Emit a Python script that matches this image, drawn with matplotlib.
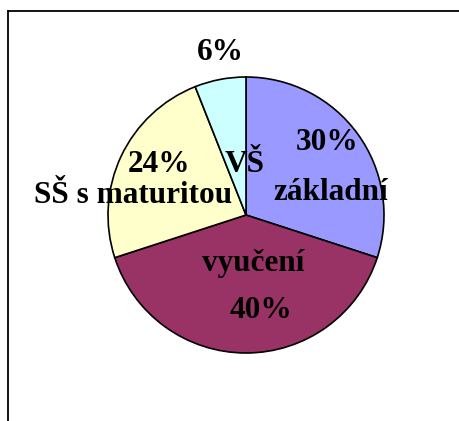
import matplotlib
matplotlib.use("Agg")
import matplotlib.pyplot as plt
from matplotlib.lines import Line2D

# data
categories = ["základní", "vyučení", "SŠ s maturitou", "VŠ"]
shares = [30, 40, 24, 6]
colors = ["#9999FF", "#993366", "#FFFFCC", "#CCFFFF"]

# label positions (pixel centres in the 460x421 image), name then percentage
name_px = [(331, 193), (253, 263), (133, 196), (245, 165)]
pct_px = [(327, 143), (261, 310), (159, 165), (220, 53)]

W, H = 460, 421
cx, cy, R = 246, 215, 138

fig = plt.figure(figsize=(W / 100, H / 100), dpi=100)
ax = fig.add_axes([0, 0, 1, 1])

ax.pie(shares, colors=colors, startangle=90, counterclock=False, radius=1,
       wedgeprops=dict(edgecolor="black", linewidth=1.2))

# pie resets the limits, so set them afterwards
ax.set_xlim(-cx / R, (W - cx) / R)
ax.set_ylim((cy - H) / R, cy / R)
ax.set_aspect("equal")
ax.axis("off")

def to_data(p):
    return (p[0] - cx) / R, (cy - p[1]) / R

font = dict(family="Liberation Serif", fontweight="bold", fontsize=22.5,
            ha="center", va="center", color="black")
for name, share, npos, ppos in zip(categories, shares, name_px, pct_px):
    x, y = to_data(npos)
    ax.text(x, y, name, **font)
    x, y = to_data(ppos)
    ax.text(x, y, f"{share}%", **font)

# frame of the chart area (cut off at right and bottom)
left = 8 / W
top = 1 - 11 / H
fig.add_artist(Line2D([left, left], [0, top], color="black", linewidth=1.3))
fig.add_artist(Line2D([left, 1], [top, top], color="black", linewidth=1.3))

fig.savefig("out.png", dpi=100)
